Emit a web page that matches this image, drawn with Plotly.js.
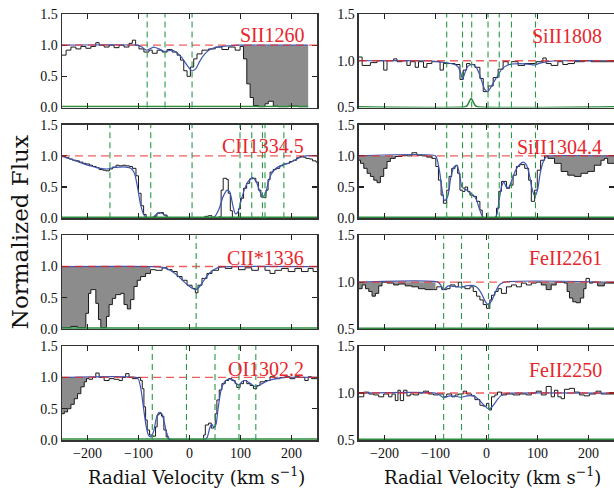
<!DOCTYPE html>
<html><head><meta charset="utf-8">
<script src="https://cdn.plot.ly/plotly-3.0.1.min.js"></script>
<style>html,body{margin:0;padding:0;background:#fff;} #chart{width:614px;height:489px;}</style>
</head><body><div id="chart"></div>
<script>
// ---------- panel labels ----------
const labels = ["SII1260", "SiII1808", "CII1334.5", "SiII1304.4", "CII*1336", "FeII2261", "OI1302.2", "FeII2250"];
const xTicks = [-200, -100, 0, 100, 200];
const continuum = 1.0;

// ---------- SII1260 ----------
const sii1260_v = [-251,-242,-232.5,-222.7,-213,-203.2,-193.4,-183.7,-177.2,-167.4,-157.7,-147.9,-138.2,-128.4,-118.6,-112.1,-105.6,-99.1,-89.4,-79.6,-73.1,-63.4,-53.6,-43.8,-34.1,-24.3,-17.8,-11.3,-4.8,1.7,8.2,14.7,24.4,37.5,50.5,63.5,76.5,89.5,99.2,105.8,112.3,118.8,125.3,135,148,154.5,164.3,174,193.5,213.1,232.6];
const sii1260_f = [0.84,0.92,0.97,0.94,0.98,0.95,0.98,1.04,1.0,0.97,1.0,0.96,1.0,0.97,1.03,1.08,1.0,0.94,0.89,0.92,0.87,0.92,0.89,0.93,0.89,0.84,0.76,0.59,0.50,0.65,0.78,0.86,0.92,0.94,0.97,0.93,0.97,0.92,0.98,0.78,0.38,0.16,0.03,0.01,0.06,0.10,0.02,0.01,0.02,0.01];
const sii1260_mv = [-250,-105,-95,-85,-78,-70,-60,-50,-42,-35,-25,-15,-5,5,12,20,30,40,50,65,80,95,232.6];
const sii1260_mf = [1.0,1.0,0.98,0.92,0.94,0.97,0.94,0.90,0.91,0.92,0.88,0.80,0.68,0.59,0.62,0.74,0.86,0.93,0.96,0.98,0.99,1.0,1.0];
const sii1260_ev = [-250,232.6];
const sii1260_ef = [0.015,0.015];
const sii1260_comp = [-83,-48,5];
const sii1260_mask = [[102,232.6]];

// ---------- SiII1808 ----------
const siii1808_v = [-250,-243.8,-227.6,-214.6,-201.5,-195,-182,-175.5,-165.8,-156,-149.5,-139.8,-133.3,-123.5,-117,-107.2,-91,-84.5,-61.7,-52,-45.5,-39,-32.4,-22.7,-12.9,-6.4,3.3,13.1,22.8,32.6,42.4,48.9,61.9,74.9,97.6,110.6,117.1,126.9,139.9,149.7,159.4,172.4,192,205,218,250];
const siii1808_f = [1.04,0.95,0.98,1.0,0.90,1.0,1.02,0.99,1.0,0.95,0.99,0.93,0.99,0.93,0.97,0.99,0.90,0.97,0.96,0.80,0.90,0.97,0.96,0.93,0.81,0.67,0.73,0.82,0.91,0.99,0.96,0.99,0.95,0.97,0.99,1.03,0.97,0.95,0.99,0.96,0.97,0.99,1.0,0.99,0.99];
const siii1808_mv = [-250,-120,-95,-75,-62,-55,-50,-47,-43,-38,-33,-27,-20,-14,-8,-3,2,8,15,22,30,40,50,65,80,95,105,120,140,250];
const siii1808_mf = [1.0,1.0,0.99,0.975,0.96,0.93,0.86,0.80,0.86,0.93,0.955,0.96,0.93,0.86,0.76,0.69,0.67,0.71,0.78,0.84,0.91,0.95,0.965,0.97,0.965,0.955,0.975,0.99,1.0,1.0];
const siii1808_ev = [-250,-42,-38,-34,-30,-26,-22,-18,250];
const siii1808_ef = [0.508,0.508,0.52,0.56,0.60,0.56,0.52,0.508,0.508];
const siii1808_comp = [-78,-47,-29,3,25,49,96];
const siii1808_mask = [];

// ---------- CII1334.5 ----------
const cii1334_v = [-251,-243,-236,-229,-222,-216,-209,-203,-196,-190,-183,-177,-170,-164,-157,-151,-144,-138,-131,-125,-118,-112,-105,-100,-95,-90,-85,-78,-70,-64,-57,-51,-44,-38,30,37,44,50,57,62,66,73,76,80,84,96,100,106,112,118,124,130,135,140,146,150,154,158,164,170,177,183,190,196,203,210,216,222,228,235,241,248,250];
const cii1334_f = [0.99,0.97,0.95,0.93,0.92,0.90,0.88,0.87,0.85,0.83,0.81,0.78,0.77,0.76,0.79,0.82,0.85,0.84,0.85,0.84,0.83,0.80,0.68,0.40,0.20,0.06,0.01,0.0,0.03,0.08,0.09,0.05,0.01,0.0,0.03,0.04,0.01,0.0,0.02,0.45,0.64,0.62,0.40,0.12,0.01,0.15,0.32,0.48,0.56,0.63,0.64,0.58,0.45,0.34,0.33,0.45,0.62,0.74,0.78,0.80,0.84,0.87,0.88,0.91,0.93,0.97,0.99,0.98,0.96,0.95,0.92,0.90];
const cii1334_mv = [-250,-230,-210,-190,-175,-160,-150,-138,-125,-115,-108,-102,-96,-90,-84,-76,-68,-60,-54,-47,-40,-33,40,50,58,66,74,79,85,90,95,101,108,116,124,131,137,143,148,154,160,168,178,190,202,215,228,250];
const cii1334_mf = [0.99,0.94,0.88,0.83,0.80,0.79,0.81,0.82,0.82,0.80,0.72,0.50,0.22,0.06,0.01,0.0,0.04,0.09,0.08,0.04,0.005,0.0,0.0,0.03,0.15,0.35,0.45,0.42,0.20,0.07,0.10,0.28,0.47,0.60,0.65,0.58,0.45,0.35,0.38,0.56,0.70,0.79,0.84,0.87,0.91,0.97,1.0,1.0];
const cii1334_ev = [-250,250];
const cii1334_ef = [0.015,0.015];
const cii1334_comp = [-156,-76,5,99,122,143,148,185];
const cii1334_mask = [];

// ---------- SiII1304.4 ----------
const siii1304_v = [-251.6,-247,-240.6,-234,-227.6,-221,-214.6,-208,-201.5,-195,-188.5,-178.8,-165.8,-156,-146.3,-136.5,-126.8,-117,-107.2,-99.4,-94.2,-89,-84.5,-78,-73.4,-68.2,-61.7,-56.5,-52,-47.4,-42.2,-37,-32.4,-26,-19.4,-12.9,-8.4,19.6,24.1,29.3,39.1,45.6,52.1,58.6,65.1,74.9,82.7,87.9,94.4,99.6,106.1,113.9,120.4,133.4,146.4,159.4,172.4,185.4,198.5,211.5,224.5,231,237.5,250];
const siii1304_f = [0.93,0.88,0.80,0.72,0.67,0.61,0.57,0.67,0.80,0.91,0.96,0.99,1.01,1.0,1.05,1.01,1.0,0.98,0.96,0.83,0.61,0.37,0.24,0.45,0.67,0.80,0.84,0.72,0.45,0.43,0.50,0.43,0.37,0.35,0.27,0.13,0.0,0.16,0.43,0.59,0.48,0.53,0.69,0.83,0.86,0.80,0.61,0.27,0.45,0.77,0.93,1.0,0.96,0.88,0.75,0.69,0.67,0.72,0.75,0.85,0.93,0.96,0.88];
const siii1304_mv = [-250,-100,-97,-92,-87,-82,-76,-70,-64,-58,-53,-48,-43,-38,-32,-26,-20,-14,-8,-3,15,20,25,30,34,39,44,50,58,66,72,78,84,90,95,100,106,112,118,122,250];
const siii1304_mf = [1.0,1.0,0.95,0.75,0.45,0.28,0.35,0.65,0.82,0.85,0.70,0.50,0.47,0.45,0.40,0.37,0.30,0.15,0.03,0.0,0.0,0.05,0.30,0.52,0.58,0.50,0.50,0.62,0.78,0.87,0.90,0.86,0.70,0.45,0.35,0.45,0.75,0.92,0.99,1.0,1.0];
const siii1304_ev = [-250,250];
const siii1304_ef = [0.015,0.015];
const siii1304_comp = [-78,-47,-29,3,25,49,96];
const siii1304_mask = [[-250,-105],[118,250]];

// ---------- CII*1336 ----------
const ciis1336_v = [-251.3,-232.5,-219.5,-203.2,-198,-193.4,-183.7,-178.5,-173.9,-162.9,-157.7,-151.2,-144.7,-134.9,-128.4,-121.9,-115.4,-108.9,-102.4,-95.9,-86.1,-76.4,-66.6,-53.6,-43.8,-34.1,-24.3,-14.6,-4.8,5,11.4,16.6,24.4,34.2,44,57,70,83,96,109,122,135,148,157.8,167.5,180.5,193.5,206.6,219.6,232.6,242.3,250];
const ciis1336_f = [0.02,0.04,0.02,0.25,0.57,0.63,0.41,0.15,0.02,0.20,0.39,0.49,0.55,0.57,0.39,0.32,0.47,0.68,0.78,0.84,0.89,0.95,0.94,0.98,0.95,0.92,0.84,0.78,0.70,0.65,0.58,0.70,0.81,0.89,0.94,1.0,0.97,1.0,0.95,0.98,0.94,1.0,0.94,0.89,0.94,0.97,0.92,0.97,0.92,0.97,0.92];
const ciis1336_mv = [-250,-75,-55,-40,-25,-10,0,8,13,20,30,40,50,60,75,250];
const ciis1336_mf = [1.0,1.0,0.99,0.95,0.87,0.75,0.68,0.64,0.63,0.68,0.80,0.90,0.96,0.99,1.0,1.0];
const ciis1336_ev = [-250,250];
const ciis1336_ef = [0.015,0.015];
const ciis1336_comp = [13];
const ciis1336_mask = [[-250,-77]];

// ---------- FeII2261 ----------
const feii2261_v = [-251.6,-243.8,-237.3,-230.8,-224.3,-217.8,-211.3,-204.8,-195,-182,-172.3,-159.3,-146.3,-133.3,-120.2,-104,-97.5,-87.7,-78,-71.5,-61.7,-55.2,-48.7,-42.2,-32.4,-26,-19.4,-12.9,-6.4,0.1,6.6,9.8,16.3,22.8,29.3,39.1,48.9,58.6,68.4,78.1,87.9,97.6,107.4,117.1,126.9,136.7,152.9,158.1,162.7,169.2,175.7,184.1,190.6,195.2,201.7,208.2,218,231,250];
const feii2261_f = [0.93,0.97,0.93,0.90,0.85,0.88,0.96,1.0,0.99,0.97,0.98,0.96,0.95,0.93,0.92,0.92,0.95,0.92,0.93,0.97,0.95,1.0,0.95,0.93,0.95,0.90,0.85,0.81,0.76,0.72,0.81,0.86,0.90,0.93,0.88,0.95,0.97,0.95,0.99,0.97,0.99,1.0,0.97,0.92,0.97,1.0,0.99,0.90,0.83,0.79,0.78,0.83,0.93,1.04,0.99,1.0,0.96,0.99];
const feii2261_mv = [-250,-95,-90,-84,-75,-65,-55,-49,-40,-30,-20,-10,-3,3,10,18,25,35,250];
const feii2261_mf = [1.0,1.0,0.97,0.92,0.96,0.955,0.95,0.945,0.96,0.965,0.95,0.88,0.80,0.76,0.80,0.90,0.97,1.0,1.0];
const feii2261_ev = [-250,250];
const feii2261_ef = [0.508,0.508];
const feii2261_comp = [-84,-49,4];
const feii2261_mask = [[-250,-100],[105,250]];

// ---------- OI1302.2 ----------
const oi1302_v = [-251.3,-245.5,-239,-232.5,-226,-219.5,-213,-206.4,-201.9,-196.7,-190.2,-183.7,-177.2,-167.4,-157.7,-147.9,-138.2,-131.7,-125.2,-118.6,-112.1,-102.4,-95.9,-92.6,-89.4,-86.1,-82.9,-78.3,-71.8,-66.6,-63.4,-60.1,-54.9,-50.3,-45.8,-41.9,-37.3,27.7,31,37.5,42.7,47.2,50.5,53.7,58.3,63.5,70,76.5,83,89.5,92.7,99.2,105.8,112.3,118.8,125.3,131.8,138.3,148,157.8,167.5,177.3,187,196.8,206.6,216.3,226.1,232.6,239.1,250];
const oi1302_f = [0.42,0.45,0.50,0.57,0.66,0.74,0.85,0.93,0.98,0.97,1.0,1.07,1.0,0.95,0.98,0.97,0.95,1.0,1.06,1.0,0.98,1.0,0.95,0.82,0.53,0.32,0.16,0.08,0.06,0.21,0.40,0.42,0.38,0.16,0.05,0.01,0.0,0.08,0.24,0.27,0.19,0.21,0.42,0.64,0.80,0.90,0.95,0.98,0.95,0.90,0.84,0.90,0.95,0.90,0.87,0.82,0.87,0.93,0.95,1.01,0.98,1.0,1.01,0.98,1.01,1.0,0.95,1.01,0.98];
const oi1302_mv = [-250,-105,-100,-95,-90,-85,-80,-75,-70,-65,-60,-55,-50,-45,-40,-35,30,35,40,44,48,52,56,62,68,75,85,92,97,104,110,120,130,140,155,170,190,250];
const oi1302_mf = [1.0,1.0,0.97,0.80,0.50,0.22,0.07,0.05,0.15,0.35,0.44,0.43,0.30,0.12,0.02,0.0,0.0,0.05,0.20,0.25,0.20,0.25,0.50,0.80,0.92,0.97,0.96,0.90,0.88,0.94,0.95,0.90,0.85,0.89,0.95,0.98,1.0,1.0];
const oi1302_ev = [-250,250];
const oi1302_ef = [0.015,0.015];
const oi1302_comp = [-73,-6,50,97,130];
const oi1302_mask = [[-250,-200]];

// ---------- FeII2250 ----------
const feii2250_v = [-251.6,-240.6,-230.8,-221,-211.3,-201.5,-191.8,-185.3,-178.8,-173.6,-169,-162.5,-156,-149.5,-143,-133.3,-123.5,-113.7,-104,-94.2,-84.5,-78,-68.2,-61.7,-55.2,-45.5,-39,-29.2,-22.7,-12.9,-6.4,0.1,4.6,9.8,16.3,21.5,29.3,39.1,52.1,65.1,78.1,87.9,97.6,107.4,117.1,126.9,133.4,139.9,146.4,152.9,162.7,172.4,182.2,191.9,201.7,214.7,224.5,250];
const feii2250_f = [0.96,1.01,0.99,0.98,0.96,0.99,0.96,0.99,0.92,1.03,0.92,1.03,0.97,0.99,0.98,1.0,1.02,0.99,0.98,0.99,0.96,0.99,0.96,0.98,0.99,1.02,0.99,0.97,0.93,0.87,0.86,0.89,0.82,0.96,0.98,1.01,0.98,0.99,0.98,0.99,0.98,1.0,1.02,0.98,1.07,0.96,1.03,0.96,0.94,1.04,1.05,1.01,0.98,0.97,0.99,1.02,0.99];
const feii2250_mv = [-250,-100,-92,-84,-72,-60,-49,-38,-25,-15,-5,5,12,20,28,38,50,250];
const feii2250_mf = [1.0,1.0,0.98,0.95,0.97,0.965,0.955,0.97,0.97,0.93,0.87,0.83,0.86,0.92,0.97,0.995,1.0,1.0];
const feii2250_ev = [-250,250];
const feii2250_ef = [0.508,0.508];
const feii2250_comp = [-84,-49,4];
const feii2250_mask = [];

// ---------- assemble ----------
const panels = [
  {v:sii1260_v, f:sii1260_f, mv:sii1260_mv, mf:sii1260_mf, ev:sii1260_ev, ef:sii1260_ef, comp:sii1260_comp, mask:sii1260_mask, yr:[0,1.5], ly:1.16},
  {v:siii1808_v, f:siii1808_f, mv:siii1808_mv, mf:siii1808_mf, ev:siii1808_ev, ef:siii1808_ef, comp:siii1808_comp, mask:siii1808_mask, yr:[0.5,1.5], ly:1.27},
  {v:cii1334_v, f:cii1334_f, mv:cii1334_mv, mf:cii1334_mf, ev:cii1334_ev, ef:cii1334_ef, comp:cii1334_comp, mask:cii1334_mask, yr:[0,1.5], ly:1.16},
  {v:siii1304_v, f:siii1304_f, mv:siii1304_mv, mf:siii1304_mf, ev:siii1304_ev, ef:siii1304_ef, comp:siii1304_comp, mask:siii1304_mask, yr:[0,1.5], ly:1.15},
  {v:ciis1336_v, f:ciis1336_f, mv:ciis1336_mv, mf:ciis1336_mf, ev:ciis1336_ev, ef:ciis1336_ef, comp:ciis1336_comp, mask:ciis1336_mask, yr:[0,1.5], ly:1.14},
  {v:feii2261_v, f:feii2261_f, mv:feii2261_mv, mf:feii2261_mf, ev:feii2261_ev, ef:feii2261_ef, comp:feii2261_comp, mask:feii2261_mask, yr:[0.5,1.5], ly:1.26},
  {v:oi1302_v, f:oi1302_f, mv:oi1302_mv, mf:oi1302_mf, ev:oi1302_ev, ef:oi1302_ef, comp:oi1302_comp, mask:oi1302_mask, yr:[0,1.5], ly:1.13},
  {v:feii2250_v, f:feii2250_f, mv:feii2250_mv, mf:feii2250_mf, ev:feii2250_ev, ef:feii2250_ef, comp:feii2250_comp, mask:feii2250_mask, yr:[0.5,1.5], ly:1.25}
];

const xDomains = [[0, 0.462], [0.538, 1.0]];
const yDomains = [[0.7805, 1.0], [0.5207, 0.7401], [0.2608, 0.4803], [0.0, 0.2204]];

const SERIF = "Liberation Serif, Times New Roman, serif";
const traces = [];
const shapes = [];
const annotations = [];
const layout = {
  width: 614, height: 489,
  margin: {l: 62, r: 0, t: 14, b: 49},
  paper_bgcolor: "#ffffff", plot_bgcolor: "#ffffff",
  showlegend: false,
  font: {family: SERIF, size: 14, color: "#111"}
};

panels.forEach((p, i) => {
  const k = i + 1;
  const xs = k === 1 ? "x" : "x" + k;
  const ys = k === 1 ? "y" : "y" + k;
  const col = i % 2, row = Math.floor(i / 2);

  // gray masked fills
  p.mask.forEach(m => {
    const a = m[0], b = m[1];
    const px = [a], py = [continuum];
    for (let j = 0; j < p.f.length; j++) {
      const x0 = Math.max(p.v[j], a), x1 = Math.min(p.v[j + 1], b);
      if (x1 <= x0) continue;
      const yy = Math.min(p.f[j], continuum);
      px.push(x0, x1); py.push(yy, yy);
    }
    px.push(b, a); py.push(continuum, continuum);
    traces.push({x: px, y: py, xaxis: xs, yaxis: ys, type: "scatter", mode: "lines",
      fill: "toself", fillcolor: "#8c8c8c", line: {width: 0, color: "rgba(0,0,0,0)"}, hoverinfo: "skip"});
  });

  // data histogram
  traces.push({x: p.v, y: p.f.concat([p.f[p.f.length - 1]]), xaxis: xs, yaxis: ys, type: "scatter",
    mode: "lines", line: {shape: "hv", color: "#1a1a1a", width: 1}, hoverinfo: "skip"});
  // model
  traces.push({x: p.mv, y: p.mf, xaxis: xs, yaxis: ys, type: "scatter", mode: "lines",
    line: {shape: "spline", smoothing: 0.7, color: "#3d55b0", width: 1.2}, hoverinfo: "skip"});
  // error
  traces.push({x: p.ev, y: p.ef, xaxis: xs, yaxis: ys, type: "scatter", mode: "lines",
    line: {shape: "spline", smoothing: 0.6, color: "#2a8c3c", width: 1.5}, hoverinfo: "skip"});

  // continuum
  shapes.push({type: "line", xref: xs + " domain", yref: ys, x0: 0, x1: 1, y0: continuum, y1: continuum,
    layer: "above", line: {color: "rgba(232,40,40,0.75)", width: 1.4, dash: "8px,5px"}});
  // component lines
  p.comp.forEach(c => {
    shapes.push({type: "line", xref: xs, yref: ys + " domain", x0: c, x1: c, y0: 0, y1: 1,
      layer: "above", line: {color: "#2a9a48", width: 1.1, dash: "6px,4px"}});
  });

  annotations.push({text: labels[i], xref: xs, yref: ys, x: col === 0 ? 228 : 231, y: p.ly,
    xanchor: "right", yanchor: "middle", showarrow: false,
    font: {family: SERIF, size: 20, color: "#e8262b"}});

  layout[k === 1 ? "xaxis" : "xaxis" + k] = {
    domain: xDomains[col], range: [-250, 250], anchor: ys,
    showline: true, linecolor: "#333", linewidth: 1.5, mirror: "ticks",
    ticks: "inside", ticklen: 5, tickwidth: 1.2, tickcolor: "#222",
    tickvals: xTicks, showticklabels: row === 3, showgrid: false, zeroline: false,
    tickfont: {family: SERIF, size: 14, color: "#111"}
  };
  const yt = p.yr[0] === 0 ? [0, 0.5, 1.0, 1.5] : [0.5, 1.0, 1.5];
  layout[k === 1 ? "yaxis" : "yaxis" + k] = {
    domain: yDomains[row], range: p.yr, anchor: xs,
    showline: true, linecolor: "#333", linewidth: 1.5, mirror: "ticks",
    ticks: "inside", ticklen: 5, tickwidth: 1.2, tickcolor: "#222",
    tickvals: yt, tickformat: ".1f", showgrid: false, zeroline: false,
    tickfont: {family: SERIF, size: 14, color: "#111"}
  };
});

annotations.push({text: "Normalized Flux", xref: "paper", yref: "paper", x: -0.076, y: 0.488,
  xanchor: "center", yanchor: "middle", textangle: -90, showarrow: false,
  font: {family: "DejaVu Serif, serif", size: 23, color: "#111"}});
annotations.push({text: "Radial Velocity (km s<sup>\u22121</sup>)", xref: "paper", yref: "paper", x: 0.2428, y: -0.0845,
  xanchor: "center", yanchor: "middle", showarrow: false,
  font: {family: "DejaVu Serif, serif", size: 18, color: "#111"}});
annotations.push({text: "Radial Velocity (km s<sup>\u22121</sup>)", xref: "paper", yref: "paper", x: 0.78, y: -0.0845,
  xanchor: "center", yanchor: "middle", showarrow: false,
  font: {family: "DejaVu Serif, serif", size: 18, color: "#111"}});

layout.shapes = shapes;
layout.annotations = annotations;

Plotly.newPlot("chart", traces, layout, {staticPlot: true, displayModeBar: false});
</script></body></html>
